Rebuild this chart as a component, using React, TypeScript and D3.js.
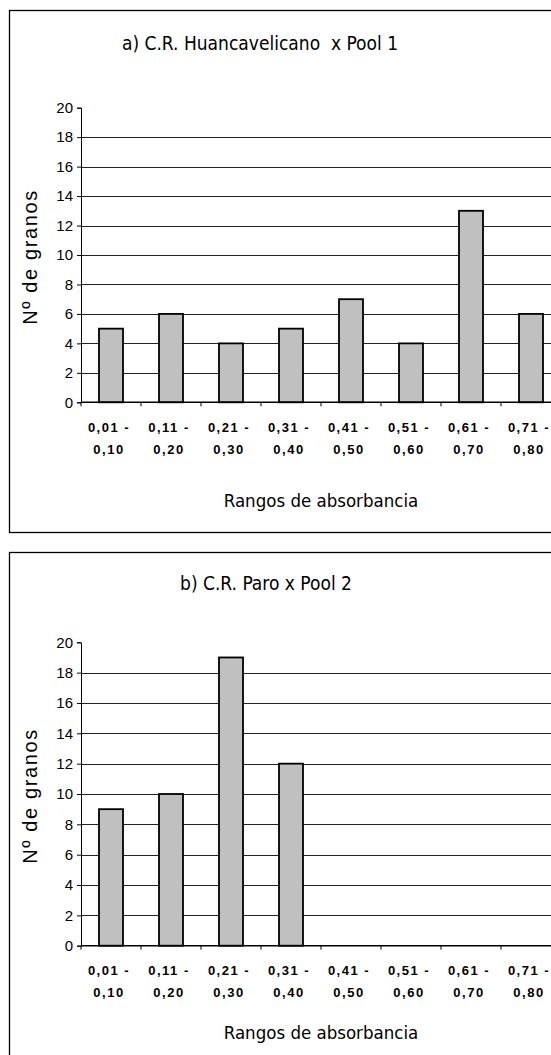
import * as d3 from "d3";
import { useEffect, useRef } from "react";

const categories = [
  ["0,01 -", "0,10"],
  ["0,11 -", "0,20"],
  ["0,21 -", "0,30"],
  ["0,31 -", "0,40"],
  ["0,41 -", "0,50"],
  ["0,51 -", "0,60"],
  ["0,61 -", "0,70"],
  ["0,71 -", "0,80"],
];
const poolOne = [5, 6, 4, 5, 7, 4, 13, 6];
const poolTwo = [9, 10, 19, 12, 0, 0, 0, 0];
const yTicks = [0, 2, 4, 6, 8, 10, 12, 14, 16, 18, 20];

const titleA = "a) C.R. Huancavelicano  x Pool 1";
const titleB = "b) C.R. Paro x Pool 2";
const xTitle = "Rangos de absorbancia";
const yTitle = "Nº de granos";

const narrow = "'Liberation Sans Narrow', 'Arial Narrow', 'DejaVu Sans Condensed', sans-serif";
const arial = "'Liberation Sans', Arial, sans-serif";

type Panel = {
  title: string;
  values: number[];
  frameTop: number;
  frameBottom: number;
  titleY: number;
  plotTop: number;
  plotBottom: number;
  label1: number;
  label2: number;
  xTitleY: number;
  titleX: number;
};

const panels: Panel[] = [
  {
    title: titleA,
    values: poolOne,
    frameTop: 10.5,
    frameBottom: 532.5,
    titleY: 43,
    plotTop: 107.7,
    plotBottom: 402.3,
    label1: 427,
    label2: 449,
    xTitleY: 500,
    titleX: 260,
  },
  {
    title: titleB,
    values: poolTwo,
    frameTop: 552.5,
    frameBottom: 1070,
    titleY: 583,
    plotTop: 642.3,
    plotBottom: 945.7,
    label1: 970,
    label2: 992,
    xTitleY: 1032,
    titleX: 266,
  },
];

export default function App() {
  const svgRef = useRef<SVGSVGElement | null>(null);

  useEffect(() => {
    if (!svgRef.current) return;
    const svg = d3.select(svgRef.current);
    svg.selectAll("*").remove();

    const left = 81;
    const right = 561;

    panels.forEach((p) => {
      const g = svg.append("g");

      g.append("rect")
        .attr("x", 9.5)
        .attr("y", p.frameTop)
        .attr("width", 600)
        .attr("height", p.frameBottom - p.frameTop)
        .attr("fill", "#fff")
        .attr("stroke", "#000")
        .attr("stroke-width", 1.3);

      g.append("text")
        .attr("x", p.titleX)
        .attr("y", p.titleY)
        .attr("text-anchor", "middle")
        .attr("dominant-baseline", "central")
        .attr("font-family", narrow)
        .attr("font-size", 19)
        .attr("fill", "#000")
        .style("white-space", "pre")
        .text(p.title);

      const x = d3
        .scaleBand<number>()
        .domain(d3.range(categories.length))
        .range([left, right])
        .paddingInner(0.6)
        .paddingOuter(0.3);

      const y = d3.scaleLinear().domain([0, 20]).range([p.plotBottom, p.plotTop]);

      // gridlines
      g.append("g")
        .selectAll("line")
        .data(yTicks.filter((t) => t > 0 && t < 20))
        .join("line")
        .attr("x1", left)
        .attr("x2", right)
        .attr("y1", (d) => Math.round(y(d)) + 0.5)
        .attr("y2", (d) => Math.round(y(d)) + 0.5)
        .attr("stroke", "#222")
        .attr("stroke-width", 1);

      // bars
      g.append("g")
        .selectAll("rect")
        .data(p.values.map((v, i) => ({ v, i })).filter((d) => d.v > 0))
        .join("rect")
        .attr("x", (d) => x(d.i)!)
        .attr("y", (d) => y(d.v))
        .attr("width", x.bandwidth())
        .attr("height", (d) => y(0) - y(d.v))
        .attr("fill", "#c0c0c0")
        .attr("stroke", "#000")
        .attr("stroke-width", 1.8);

      // y axis
      const yAxis = g
        .append("g")
        .attr("transform", `translate(${left},0)`)
        .call(d3.axisLeft(y).tickValues(yTicks).tickSize(4).tickPadding(4).tickFormat(d3.format("d")) as any);
      yAxis.select(".domain").attr("stroke", "#000").attr("stroke-width", 1);
      yAxis.selectAll(".tick line").attr("stroke", "#000");
      yAxis
        .selectAll("text")
        .attr("font-family", arial)
        .attr("font-size", 15)
        .attr("fill", "#000");

      // x axis with ticks at band boundaries
      const boundaries = d3.range(categories.length + 1).map((i) => left + (i * (right - left)) / categories.length);
      g.append("line")
        .attr("x1", left)
        .attr("x2", right)
        .attr("y1", p.plotBottom)
        .attr("y2", p.plotBottom)
        .attr("stroke", "#000")
        .attr("stroke-width", 1.4);
      g.append("g")
        .selectAll("line")
        .data(boundaries)
        .join("line")
        .attr("x1", (d) => d)
        .attr("x2", (d) => d)
        .attr("y1", p.plotBottom)
        .attr("y2", p.plotBottom + 4)
        .attr("stroke", "#000");

      const labels = g.append("g");
      categories.forEach((c, i) => {
        const cx = x(i)! + x.bandwidth() / 2 - 2;
        [p.label1, p.label2].forEach((ly, j) => {
          labels
            .append("text")
            .attr("x", cx)
            .attr("y", ly)
            .attr("text-anchor", "middle")
            .attr("dominant-baseline", "central")
            .attr("font-family", arial)
            .attr("font-weight", "bold")
            .attr("font-size", 13)
            .attr("letter-spacing", 1.5)
            .attr("fill", "#000")
            .text(c[j]);
        });
      });

      g.append("text")
        .attr("x", (left + right) / 2)
        .attr("y", p.xTitleY)
        .attr("text-anchor", "middle")
        .attr("dominant-baseline", "central")
        .attr("font-family", narrow)
        .attr("font-size", 18.5)
        .attr("fill", "#000")
        .text(xTitle);

      g.append("text")
        .attr("transform", `translate(30,${(p.plotTop + p.plotBottom) / 2 + 2}) rotate(-90)`)
        .attr("text-anchor", "middle")
        .attr("dominant-baseline", "central")
        .attr("font-family", arial)
        .attr("font-size", 20)
        .attr("letter-spacing", 1.6)
        .attr("fill", "#000")
        .text(yTitle);
    });
  }, []);

  return (
    <svg
      ref={svgRef}
      width={551}
      height={1055}
      style={{ position: "absolute", left: 0, top: 0, display: "block", background: "#fff" }}
    />
  );
}
